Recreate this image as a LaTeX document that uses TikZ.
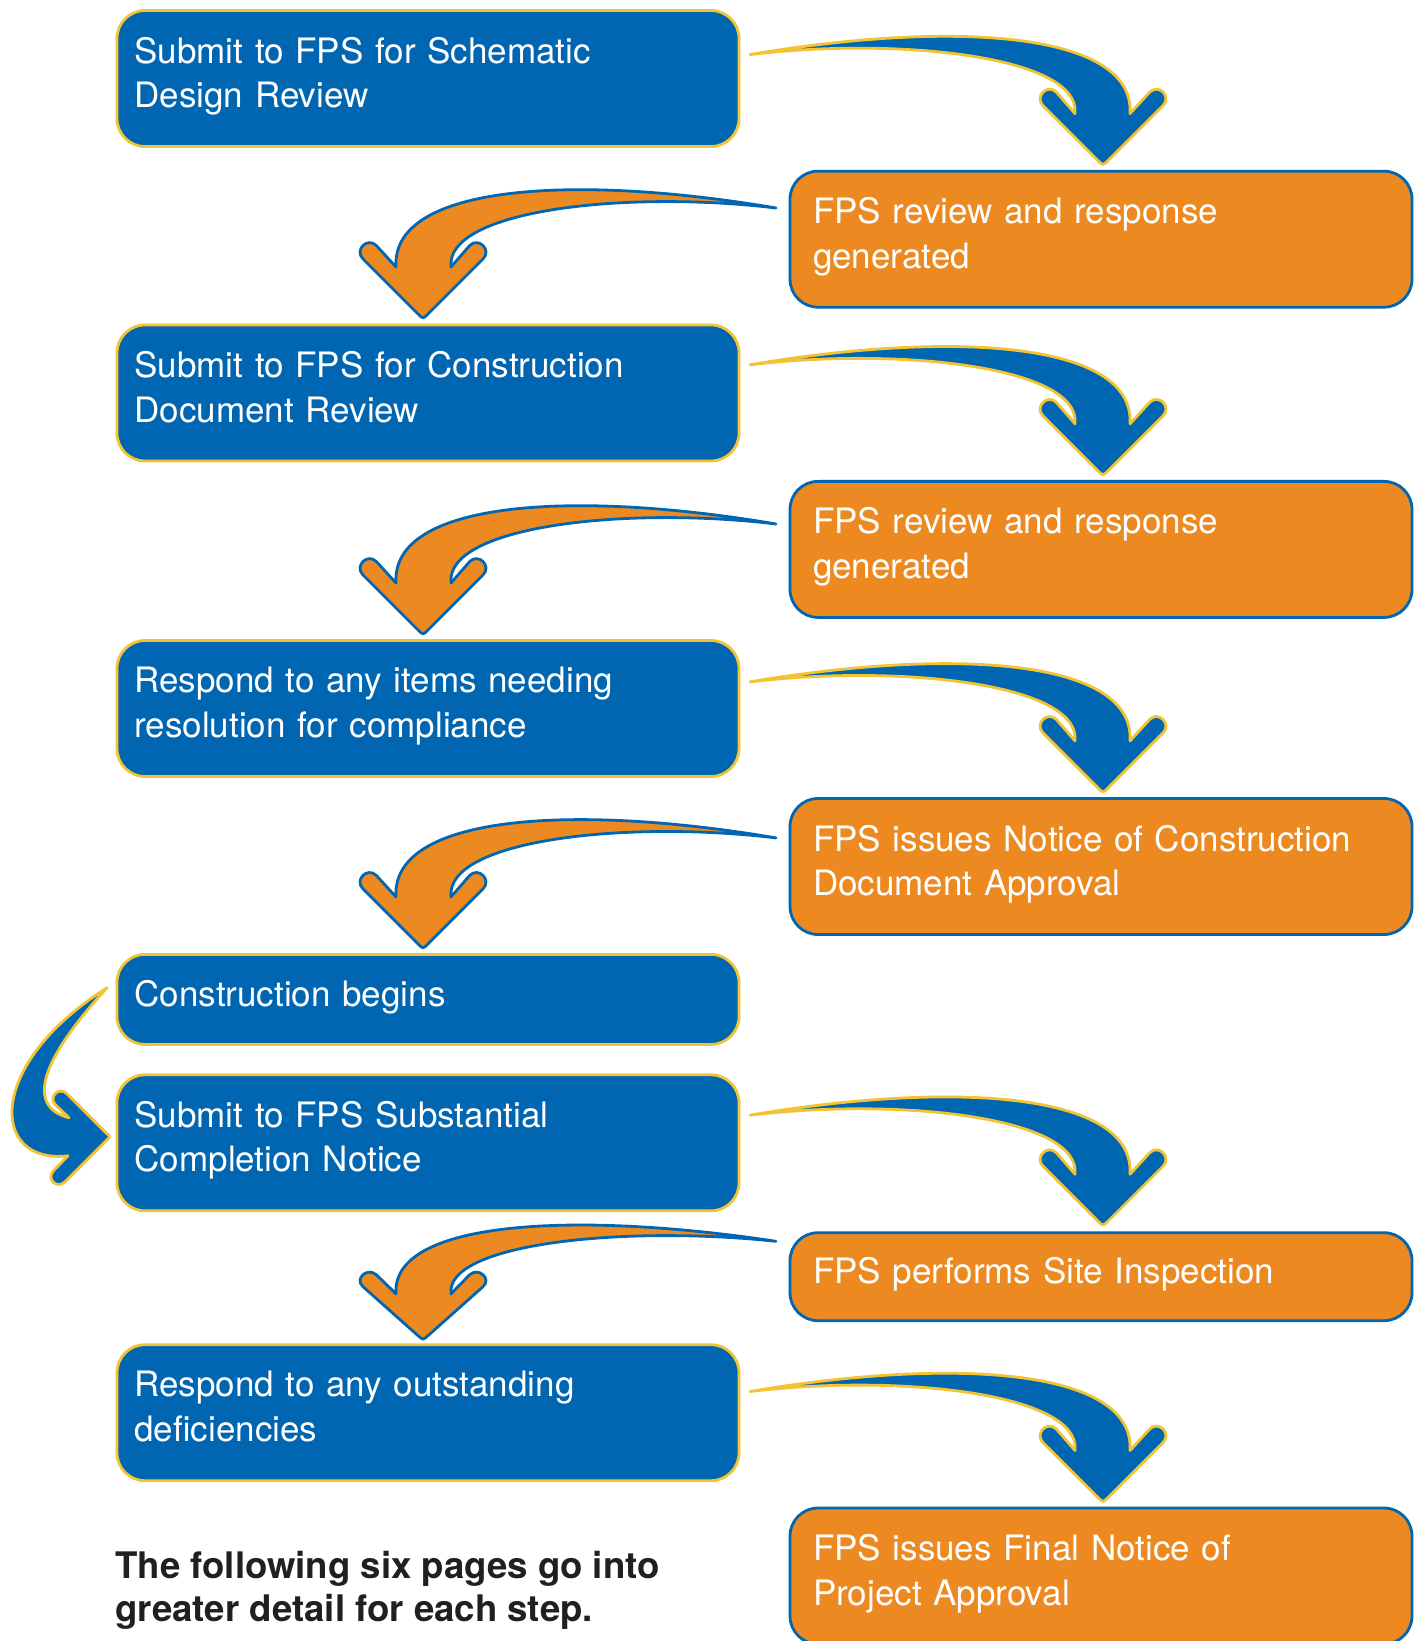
\documentclass[tikz,border=0pt]{standalone}
\usepackage{fontspec}
\setmainfont{TeX Gyre Heros}
\usetikzlibrary{calc}
\definecolor{fpsblue}{RGB}{0,102,177}
\definecolor{fpsorange}{RGB}{237,137,33}
\definecolor{fpsyellow}{RGB}{242,196,51}
\definecolor{notegray}{RGB}{35,31,32}
\begin{document}
\begin{tikzpicture}[x=0.5pt,y=-0.5pt,
  stepbase/.style={rounded corners=14pt, line width=1.4pt, text=white,
    minimum width=311pt, inner ysep=0pt, outer sep=0pt, align=left,
    font=\fontsize{17.5pt}{22.25pt}\selectfont},
  bbox/.style={stepbase, fill=fpsblue, draw=fpsyellow, inner xsep=8.75pt, text width=293.5pt},
  obox/.style={stepbase, fill=fpsorange, draw=fpsblue, inner xsep=11.5pt, text width=288pt},
  tallbox/.style={minimum height=68pt, text depth=28.55pt},
  shortbox/.style={text depth=6.3pt},
  bluearr/.style={fill=fpsblue, draw=fpsyellow, line width=1.4pt, line join=round},
  orangearr/.style={fill=fpsorange, draw=fpsblue, line width=1.4pt, line join=round},
  curvearrow/.pic={
    \path[pic actions] (-353,-110) .. controls (-153,-144) and (32,-134) .. (27,-51)
      -- (46.6,-72.4) .. controls (55.6,-81.4) and (69,-68) .. (60,-59)
      -- (5,-4) .. controls (0,1) .. (-5,-4)
      -- (-60,-59) .. controls (-69,-68) and (-55.6,-81.4) .. (-46.6,-72.4)
      -- (-28,-51) .. controls (-22,-108) and (-203,-128) .. (-353,-110) -- cycle;
  },
  sidearrow/.pic={
    \path[pic actions] (-3,-149) .. controls (-125,-72) and (-120,28) .. (-42,19)
      -- (-56.3,33.7) .. controls (-64.3,41.7) and (-53,53) .. (-45,45)
      -- (-4,4) .. controls (0.5,0) .. (-4,-4)
      -- (-43,-43) .. controls (-51,-51) and (-62.3,-39.7) .. (-54.3,-31.7)
      -- (-41,-19) .. controls (-90,-32) and (-60,-87) .. (-3,-149) -- cycle;
  }]
\useasboundingbox (0,0) rectangle (1419,1641);
\clip (0,0) rectangle (1419,1641);

% step boxes
\node[bbox, tallbox] (b1) at (428,78.5) {Submit to FPS for Schematic\\Design Review};
\node[obox, tallbox] (o1) at (1101,239.2) {FPS review and response\\generated};
\node[bbox, tallbox] (b2) at (428,393) {Submit to FPS for Construction\\Document Review};
\node[obox, tallbox] (o2) at (1101,549.4) {FPS review and response\\generated};
\node[bbox, tallbox] (b3) at (428,708.5) {Respond to any items needing\\resolution for compliance};
\node[obox, tallbox] (o3) at (1101,866.5) {FPS issues Notice of Construction\\Document Approval};
\node[bbox, shortbox, minimum height=45pt] (b4) at (428,999.4) {Construction begins};
\node[bbox, tallbox] (b5) at (428,1142.8) {Submit to FPS Substantial\\Completion Notice};
\node[obox, shortbox, minimum height=44pt] (o4) at (1101,1276.7) {FPS performs Site Inspection};
\node[bbox, tallbox] (b6) at (428,1412.7) {Respond to any outstanding\\deficiencies};
\node[obox, tallbox] (o5) at (1101,1576) {FPS issues Final Notice of\\Project Approval};

% note
\node[anchor=north west, inner sep=0pt, align=left, text=notegray,
  font=\bfseries\fontsize{18.3pt}{21.5pt}\selectfont] (note) at (115,1551)
  {The following six pages go into\\greater detail for each step.};

% curved arrows
\pic[bluearr] at ($(o1.north)+(2,-6.6)$) {curvearrow};
\pic[bluearr] at ($(o2.north)+(2,-6.6)$) {curvearrow};
\pic[bluearr] at ($(o3.north)+(2,-6.6)$) {curvearrow};
\pic[bluearr] at ($(o4.north)+(2,-7.5)$) {curvearrow};
\pic[bluearr] at ($(o5.north)+(2,-6.5)$) {curvearrow};
\pic[orangearr, xscale=-1] at ($(b2.north)+(-5,-7)$) {curvearrow};
\pic[orangearr, xscale=-1] at ($(b3.north)+(-5,-6.5)$) {curvearrow};
\pic[orangearr, xscale=-1] at ($(b4.north)+(-5,-6.5)$) {curvearrow};
\pic[orangearr, xscale=-1, yscale=0.89] at ($(b6.north)+(-5,-5.5)$) {curvearrow};
\pic[bluearr] at ($(b5.west)+(-7,-6)$) {sidearrow};
\end{tikzpicture}
\end{document}
